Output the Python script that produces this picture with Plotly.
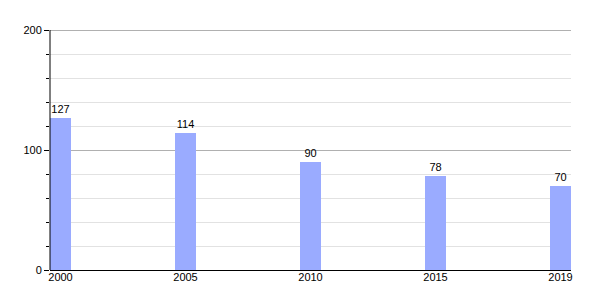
import plotly.graph_objects as go

years = ["2000", "2005", "2010", "2015", "2019"]
values = [127, 114, 90, 78, 70]

fig = go.Figure()
fig.add_trace(go.Bar(
    x=years, y=values,
    marker=dict(color="#9aabff", line=dict(width=0)),
    width=0.168,
    text=[str(v) for v in values],
    textposition="outside",
    textfont=dict(size=11, color="#000", family="Liberation Sans"),
    cliponaxis=False,
))
fig.update_layout(
    width=600, height=300,
    margin=dict(l=50, r=29, t=28, b=30),
    plot_bgcolor="white", paper_bgcolor="white",
    showlegend=False,
    font=dict(family="Liberation Sans", size=11, color="#000"),
    bargap=0,
)
fig.update_xaxes(
    type="category", range=[-0.084, 4.084],
    showline=True, linecolor="#000", linewidth=1,
    ticks="", showgrid=False, tickfont=dict(size=11), ticklabelstandoff=-3,
)
fig.update_yaxes(
    range=[0, 201.7], tickvals=[0, 100, 200],
    showline=False,
    ticks="outside", ticklen=5, tickcolor="#000", tickwidth=1,
    showgrid=True, gridcolor="#b0b0b0", gridwidth=1,
    zeroline=False,
    minor=dict(dtick=20, ticks="outside", ticklen=3, tickcolor="#000",
               showgrid=True, gridcolor="#e2e2e2", gridwidth=1),
    tickfont=dict(size=11),
)
fig.add_shape(type="line", xref="paper", yref="y", x0=0, x1=0, y0=0, y1=200,
              line=dict(color="#000", width=1))
fig.write_html("out.html")
